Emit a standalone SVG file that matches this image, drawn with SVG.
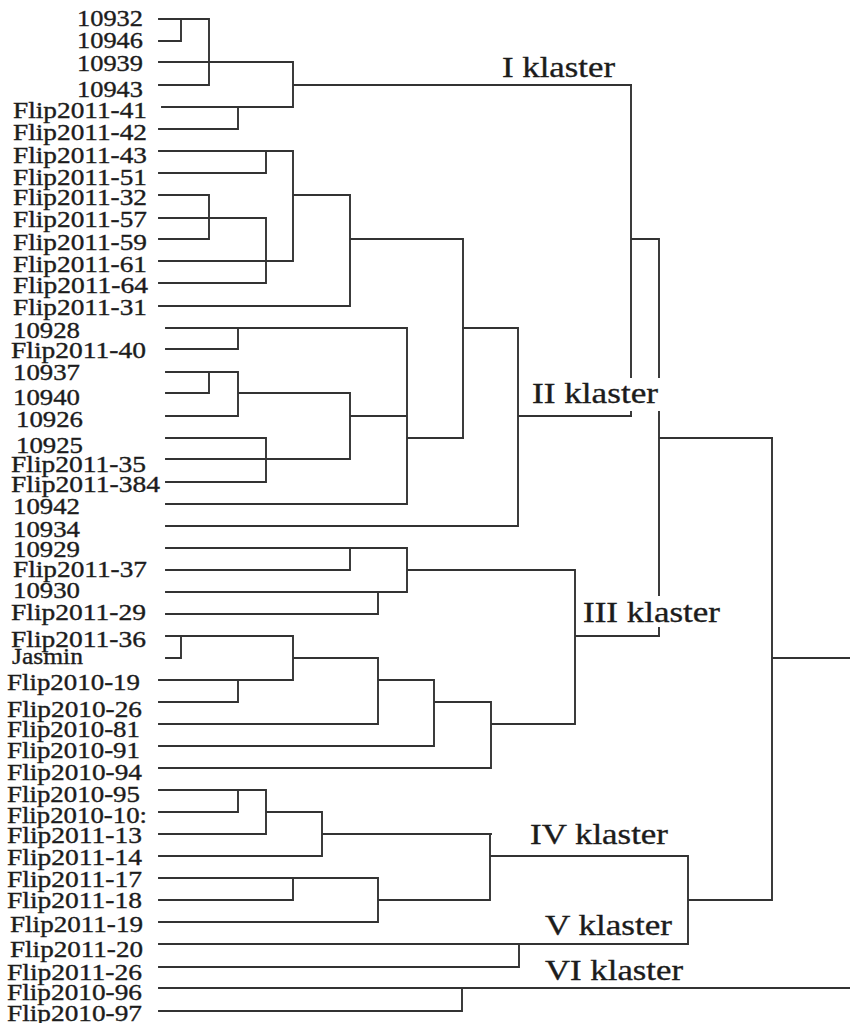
<svg xmlns="http://www.w3.org/2000/svg" width="850" height="1023" viewBox="0 0 850 1023">
<style>
.ln{stroke:#333;stroke-width:1.9;fill:none;stroke-linecap:square}
text{font-family:"Liberation Serif","Times New Roman",serif;fill:#1c1c1c;stroke:#1c1c1c;stroke-width:0.35}
.lf{font-size:22.5px}
.cl{font-size:30px}
</style>
<rect width="850" height="1023" fill="#fff"/>
<g id="connectors" class="ln">
<path d="M159 19H209M159 41H181M181 19V41M209 19V85M159 62H293M159 85H209M162 107H293M159 129H238M238 107V129M293 62V107M293 85H631"/>
<path d="M159 151H293M159 173H266M266 151V173M159 195H209M159 239H209M209 195V239M159 218H266M159 283H266M266 218V283M159 261H293M293 151V261M293 195H350M159 306H350M350 195V306M350 239H463M463 239V438"/>
<path d="M166 328H407M166 349H238M238 328V349M166 372H238M166 393H209M209 372V393M238 372V416M166 416H238M238 393H350M166 438H266M166 482H266M266 438V482M166 459H350M350 393V459M350 416H407M166 504H407M407 328V504M407 438H463M463 328H518M166 526H518M518 328V526M518 416H631"/>
<path d="M631 85V377M631 412V416M659 239V377M659 412V595M659 628V636M631 239H659M659 438H772"/>
<path d="M166 548H407M166 570H350M350 548V570M407 548V592M166 592H407M166 614H378M378 592V614M407 570H575M166 636H293M166 658H181M181 636V658M293 636V680M293 658H378M159 680H293M238 680V702M159 702H238M378 658V724M159 724H378M378 680H434M434 680V746M159 746H434M434 702H491M491 702V768M159 768H491M491 724H575M575 570V724M575 636H659"/>
<path d="M159 790H266M159 812H238M238 790V812M266 790V834M159 834H266M266 812H322M159 856H322M322 812V856M322 834H491M159 878H378M159 900H293M293 878V900M159 922H378M378 878V922M378 900H490M490 834V900M490 856H688M159 944H688M688 856V944M688 900H772M772 438V900M772 658H850M519 944V967M159 967H519"/>
<path d="M159 988H850M462 988V1011M159 1011H462"/>
</g>
<g id="leaves" class="lf">
<g id="n1"><text x="77" y="26" textLength="66" lengthAdjust="spacingAndGlyphs">10932</text></g>
<g id="n2"><text x="77" y="48" textLength="66" lengthAdjust="spacingAndGlyphs">10946</text></g>
<g id="n3"><text x="77" y="71" textLength="66" lengthAdjust="spacingAndGlyphs">10939</text></g>
<g id="n4"><text x="77" y="97" textLength="66" lengthAdjust="spacingAndGlyphs">10943</text></g>
<g id="n5"><text x="13" y="118" textLength="134" lengthAdjust="spacingAndGlyphs">Flip2011-41</text></g>
<g id="n6"><text x="13" y="140" textLength="134" lengthAdjust="spacingAndGlyphs">Flip2011-42</text></g>
<g id="n7"><text x="13" y="163" textLength="134" lengthAdjust="spacingAndGlyphs">Flip2011-43</text></g>
<g id="n8"><text x="13" y="185" textLength="134" lengthAdjust="spacingAndGlyphs">Flip2011-51</text></g>
<g id="n9"><text x="13" y="205" textLength="134" lengthAdjust="spacingAndGlyphs">Flip2011-32</text></g>
<g id="n10"><text x="13" y="227" textLength="134" lengthAdjust="spacingAndGlyphs">Flip2011-57</text></g>
<g id="n11"><text x="13" y="250" textLength="134" lengthAdjust="spacingAndGlyphs">Flip2011-59</text></g>
<g id="n12"><text x="13" y="272" textLength="134" lengthAdjust="spacingAndGlyphs">Flip2011-61</text></g>
<g id="n13"><text x="13" y="293" textLength="135" lengthAdjust="spacingAndGlyphs">Flip2011-64</text></g>
<g id="n14"><text x="13" y="315" textLength="134" lengthAdjust="spacingAndGlyphs">Flip2011-31</text></g>
<g id="n15"><text x="13" y="338" textLength="67" lengthAdjust="spacingAndGlyphs">10928</text></g>
<g id="n16"><text x="11" y="358" textLength="135" lengthAdjust="spacingAndGlyphs">Flip2011-40</text></g>
<g id="n17"><text x="13" y="380" textLength="67" lengthAdjust="spacingAndGlyphs">10937</text></g>
<g id="n18"><text x="13" y="405" textLength="67" lengthAdjust="spacingAndGlyphs">10940</text></g>
<g id="n19"><text x="16" y="427" textLength="67" lengthAdjust="spacingAndGlyphs">10926</text></g>
<g id="n20"><text x="16" y="453" textLength="67" lengthAdjust="spacingAndGlyphs">10925</text></g>
<g id="n21"><text x="11" y="472" textLength="135" lengthAdjust="spacingAndGlyphs">Flip2011-35</text></g>
<g id="n22"><text x="11" y="492" textLength="149" lengthAdjust="spacingAndGlyphs">Flip2011-384</text></g>
<g id="n23"><text x="13" y="514" textLength="67" lengthAdjust="spacingAndGlyphs">10942</text></g>
<g id="n24"><text x="13" y="537" textLength="67" lengthAdjust="spacingAndGlyphs">10934</text></g>
<g id="n25"><text x="13" y="557" textLength="67" lengthAdjust="spacingAndGlyphs">10929</text></g>
<g id="n26"><text x="13" y="577" textLength="134" lengthAdjust="spacingAndGlyphs">Flip2011-37</text></g>
<g id="n27"><text x="13" y="598" textLength="67" lengthAdjust="spacingAndGlyphs">10930</text></g>
<g id="n28"><text x="11" y="620" textLength="135" lengthAdjust="spacingAndGlyphs">Flip2011-29</text></g>
<g id="n29"><text x="11" y="647" textLength="135" lengthAdjust="spacingAndGlyphs">Flip2011-36</text></g>
<g id="n30"><text x="12" y="664" textLength="71" lengthAdjust="spacingAndGlyphs">Jasmin</text></g>
<g id="n31"><text x="7" y="690" textLength="133" lengthAdjust="spacingAndGlyphs">Flip2010-19</text></g>
<g id="n32"><text x="7" y="717" textLength="135" lengthAdjust="spacingAndGlyphs">Flip2010-26</text></g>
<g id="n33"><text x="7" y="737" textLength="133" lengthAdjust="spacingAndGlyphs">Flip2010-81</text></g>
<g id="n34"><text x="7" y="758" textLength="133" lengthAdjust="spacingAndGlyphs">Flip2010-91</text></g>
<g id="n35"><text x="7" y="780" textLength="135" lengthAdjust="spacingAndGlyphs">Flip2010-94</text></g>
<g id="n36"><text x="7" y="802" textLength="133" lengthAdjust="spacingAndGlyphs">Flip2010-95</text></g>
<g id="n37"><text x="7" y="823" textLength="140" lengthAdjust="spacingAndGlyphs">Flip2010-10:</text></g>
<g id="n38"><text x="7" y="843" textLength="135" lengthAdjust="spacingAndGlyphs">Flip2011-13</text></g>
<g id="n39"><text x="7" y="865" textLength="135" lengthAdjust="spacingAndGlyphs">Flip2011-14</text></g>
<g id="n40"><text x="7" y="887" textLength="135" lengthAdjust="spacingAndGlyphs">Flip2011-17</text></g>
<g id="n41"><text x="7" y="908" textLength="135" lengthAdjust="spacingAndGlyphs">Flip2011-18</text></g>
<g id="n42"><text x="10" y="932" textLength="133" lengthAdjust="spacingAndGlyphs">Flip2011-19</text></g>
<g id="n43"><text x="10" y="957" textLength="133" lengthAdjust="spacingAndGlyphs">Flip2011-20</text></g>
<g id="n44"><text x="7" y="980" textLength="135" lengthAdjust="spacingAndGlyphs">Flip2011-26</text></g>
<g id="n45"><text x="7" y="1000" textLength="135" lengthAdjust="spacingAndGlyphs">Flip2010-96</text></g>
<g id="n46"><text x="7" y="1021" textLength="135" lengthAdjust="spacingAndGlyphs">Flip2010-97</text></g>
</g>
<g id="clusters" class="cl">
<g id="c1"><text x="502" y="77" textLength="113" lengthAdjust="spacingAndGlyphs">I klaster</text></g>
<g id="c2"><text x="532" y="403" textLength="126" lengthAdjust="spacingAndGlyphs">II klaster</text></g>
<g id="c3"><text x="583" y="622" textLength="137" lengthAdjust="spacingAndGlyphs">III klaster</text></g>
<g id="c4"><text x="530" y="844" textLength="138" lengthAdjust="spacingAndGlyphs">IV klaster</text></g>
<g id="c5"><text x="545" y="935" textLength="127" lengthAdjust="spacingAndGlyphs">V klaster</text></g>
<g id="c6"><text x="545" y="980" textLength="138" lengthAdjust="spacingAndGlyphs">VI klaster</text></g>
</g>
</svg>
